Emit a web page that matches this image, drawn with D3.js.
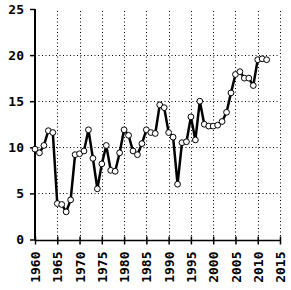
<!DOCTYPE html>
<html><head><meta charset="utf-8">
<script src="https://cdn.jsdelivr.net/npm/d3@7"></script>
<style>body{margin:0;background:#fff}</style>
</head><body>
<script>
const years = [1960,1961,1962,1963,1964,1965,1966,1967,1968,1969,1970,1971,1972,1973,1974,1975,1976,1977,1978,1979,1980,1981,1982,1983,1984,1985,1986,1987,1988,1989,1990,1991,1992,1993,1994,1995,1996,1997,1998,1999,2000,2001,2002,2003,2004,2005,2006,2007,2008,2009,2010,2011,2012];
const values = [9.8,9.4,10.2,11.8,11.6,3.9,3.8,3.0,4.3,9.2,9.3,9.6,11.9,8.8,5.5,8.2,10.2,7.5,7.4,9.4,11.9,11.3,9.6,9.2,10.4,11.9,11.6,11.5,14.6,14.3,11.6,11.1,6.0,10.5,10.6,13.3,10.8,15.0,12.5,12.3,12.3,12.4,12.8,13.8,15.9,17.9,18.2,17.5,17.5,16.7,19.5,19.6,19.5];
const xTicks = [1960,1965,1970,1975,1980,1985,1990,1995,2000,2005,2010,2015];
const yTicks = [0,5,10,15,20,25];

const W=291,H=290;
const svg=d3.select("body").append("svg").attr("width",W).attr("height",H);
const x=d3.scaleLinear().domain([1960,2015]).range([35,280]);
const y=d3.scaleLinear().domain([0,25]).range([239.5,9]);
const font="'DejaVu Sans Mono', monospace";

// grid
svg.append("g").selectAll("line").data(xTicks.slice(1)).join("line")
  .attr("x1",d=>Math.round(x(d))+0.5).attr("x2",d=>Math.round(x(d))+0.5)
  .attr("y1",y(0)).attr("y2",y(25))
  .attr("stroke","#000").attr("stroke-width",1).attr("stroke-dasharray","1,2.5");
svg.append("g").selectAll("line").data(yTicks.slice(1,5)).join("line")
  .attr("y1",d=>Math.round(y(d))+0.5).attr("y2",d=>Math.round(y(d))+0.5)
  .attr("x1",x(1960)).attr("x2",x(2015))
  .attr("stroke","#000").attr("stroke-width",1).attr("stroke-dasharray","1,2.5");

// axes
const xa=svg.append("g").attr("transform",`translate(0,${Math.round(y(0))+0.5})`)
  .call(d3.axisBottom(x).tickValues(xTicks).tickFormat(d3.format("d")).tickSize(4));
xa.select(".domain").attr("stroke-width",1.5).attr("d",`M${x(1960)},0H${x(2015)}`);
xa.selectAll(".tick line").attr("y1",-4).attr("y2",4).attr("stroke-width",1.5);
xa.selectAll("text").attr("transform","rotate(-90)").attr("text-anchor","end")
  .attr("x",-11).attr("y",0).attr("dy","0.35em")
  .style("font-family",font).style("font-size","13px").style("font-weight","bold");

const ya=svg.append("g").attr("transform",`translate(${x(1960)},0)`)
  .call(d3.axisLeft(y).tickValues(yTicks).tickSize(5));
ya.select(".domain").attr("stroke-width",2).attr("d",`M0,${y(0)}V${y(25)}`);
ya.selectAll(".tick line").attr("stroke-width",1.5);
ya.selectAll("text").attr("x",-11)
  .style("font-family",font).style("font-size","13px").style("font-weight","bold");

// line
const data=years.map((d,i)=>({year:d,v:values[i]}));
svg.append("path").datum(data)
  .attr("d",d3.line().x(d=>x(d.year)).y(d=>y(d.v)))
  .attr("fill","none").attr("stroke","#000").attr("stroke-width",2.5).attr("stroke-linejoin","round");
svg.append("g").selectAll("circle").data(data).join("circle")
  .attr("cx",d=>x(d.year)).attr("cy",d=>y(d.v)).attr("r",2.9)
  .attr("fill","#fff").attr("stroke","#000").attr("stroke-width",1);
</script>
</body></html>
